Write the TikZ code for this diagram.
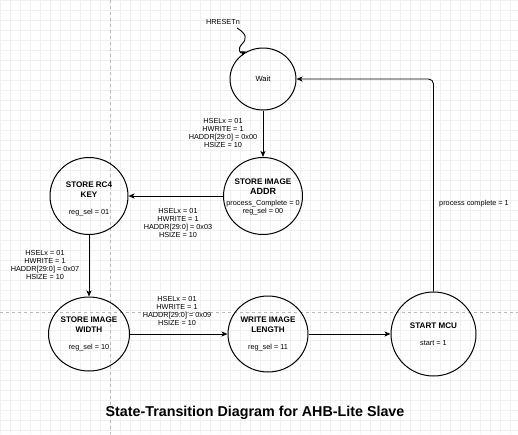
\documentclass[tikz,border=0pt]{standalone}
\usepackage{fontspec}
\setmainfont{Liberation Sans}
\usetikzlibrary{arrows.meta,shapes.geometric}
\begin{document}
\begin{tikzpicture}[x=1pt,y=-1pt,
  state/.style={draw=black,line width=1pt,ellipse,inner sep=0pt},
  stxt/.style={align=center,inner sep=0pt,font=\fontsize{7.3}{8}\selectfont},
  lbl/.style={align=center,inner sep=0pt,font=\fontsize{7.3}{8}\selectfont},
  arr/.style={draw=black,line width=0.9pt,-{Stealth[length=6pt,width=5pt,inset=1.5pt]}},
  pageline/.style={draw=gray!55,dashed,line width=0.5pt}
]
\useasboundingbox (0,0) rectangle (518,434);
\fill[white] (0,0) rectangle (518,434);
\draw[gray!12,line width=0.4pt] (0,0) grid[step=10pt] (518,434);
\draw[pageline] (110,0) -- (110,434);
\draw[pageline] (0,312) -- (518,312);

% states
\node[state,minimum width=66pt,minimum height=62pt] (wait) at (263,79) {};
\node[stxt,font=\fontsize{7.6}{8}\selectfont] (waitt) at (263,79) {Wait};

\node[state,minimum width=79pt,minimum height=77pt] (addr) at (263,196) {};
\node[stxt] (addrt) at (263,197) {{\fontsize{8.1}{8}\selectfont\bfseries STORE IMAGE}\\[2pt]
  {\fontsize{9}{8}\selectfont\bfseries ADDR}\\[3pt]
  process\_Complete = 0\\ reg\_sel = 00};

\node[state,minimum width=78pt,minimum height=77pt] (rc4) at (89,196) {};
\node[stxt] (rc4t) at (89,199) {{\fontsize{8.1}{8}\selectfont\bfseries STORE RC4}\\[2pt]
  {\fontsize{8.1}{8}\selectfont\bfseries KEY}\\[9pt] reg\_sel = 01};

\node[state,minimum width=81pt,minimum height=74pt] (width) at (89,334) {};
\node[stxt] (widtht) at (89,334) {{\fontsize{8.1}{8}\selectfont\bfseries STORE IMAGE}\\[2pt]
  {\fontsize{8.1}{8}\selectfont\bfseries WIDTH}\\[9pt] reg\_sel = 10};

\node[state,minimum width=80pt,minimum height=76pt] (length) at (268,334) {};
\node[stxt] (lengtht) at (268,334) {{\fontsize{8.1}{8}\selectfont\bfseries WRITE IMAGE}\\[2pt]
  {\fontsize{8.1}{8}\selectfont\bfseries LENGTH}\\[9pt] reg\_sel = 11};

\node[state,minimum width=85pt,minimum height=84pt] (mcu) at (433.5,334) {};
\node[stxt] (mcut) at (433.5,334) {{\fontsize{8.1}{8}\selectfont\bfseries START MCU}\\[9pt] start = 1};

% reset
\node[lbl] (hreset) at (223,22) {HRESETn};
\coordinate (hrs) at (237,28);
\draw[arr] (hrs) .. controls (247,34) and (247,39) .. (242,44)
  .. controls (237,49) and (240,54) .. (wait.121);

% transitions
\draw[arr] (wait.south) -- (addr.north);
\node[lbl] (l1) at (223,133) {HSELx = 01\\HWRITE = 1\\HADDR[29:0] = 0x00\\HSIZE = 10};

\draw[arr] (addr.west) -- (rc4.east);
\node[lbl] (l2) at (178,223) {HSELx = 01\\HWRITE = 1\\HADDR[29:0] = 0x03\\HSIZE = 10};

\draw[arr] (rc4.south) -- (width.north);
\node[lbl] (l3) at (45,264.5) {HSELx = 01\\HWRITE = 1\\HADDR[29:0] = 0x07\\HSIZE = 10};

\draw[arr] (width.east) -- (length.west);
\node[lbl] (l4) at (177,310.5) {HSELx = 01\\HWRITE = 1\\HADDR[29:0] = 0x09\\HSIZE = 10};

\draw[arr] (length.east) -- (mcu.west);

\draw[arr,rounded corners=5pt] (mcu.north) |- (wait.east);
\node[lbl,anchor=west] (l5) at (439,204) {process complete = 1};

% title
\node[inner sep=0pt,font=\fontsize{14.3}{16}\selectfont\bfseries] (title) at (255,413) {State-Transition Diagram for AHB-Lite Slave};
\end{tikzpicture}
\end{document}
